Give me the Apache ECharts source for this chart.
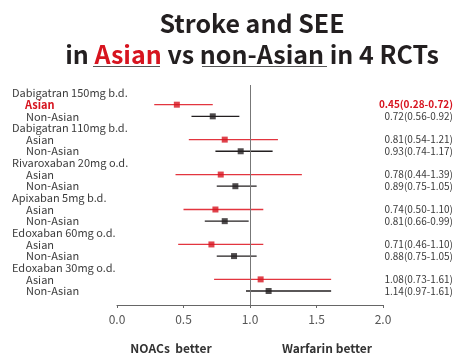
<!DOCTYPE html>
<html><head><meta charset="utf-8">
<script src="https://cdn.jsdelivr.net/npm/echarts@6/dist/echarts.min.js"></script>
<style>html,body{margin:0;padding:0;background:#fff}#c{width:473px;height:363px}</style>
</head><body><div id="c"></div>
<script>
const drugs = ['Dabigatran 150mg b.d.', 'Dabigatran 110mg b.d.', 'Rivaroxaban 20mg o.d.', 'Apixaban 5mg b.d.', 'Edoxaban 60mg o.d.', 'Edoxaban 30mg o.d.'];
const asianHR = [0.45, 0.81, 0.78, 0.74, 0.71, 1.08];
const asianLo = [0.28, 0.54, 0.44, 0.50, 0.46, 0.73];
const asianHi = [0.72, 1.21, 1.39, 1.10, 1.10, 1.61];
const nonHR = [0.72, 0.93, 0.89, 0.81, 0.88, 1.14];
const nonLo = [0.56, 0.74, 0.75, 0.66, 0.75, 0.97];
const nonHi = [0.92, 1.17, 1.05, 0.99, 1.05, 1.61];
const xTicks = [0, 0.5, 1.0, 1.5, 2.0];
const highlightIdx = 0;

const RED = '#d7141f', REDL = '#e3353f', BLK = '#231f20', TXT = '#3b3b3b';
const FONT = '"Noto Sans CJK SC", "Noto Sans", sans-serif';

const rows = [];
drugs.forEach((d, i) => {
  rows.push({type: 'h', text: d, right: ''});
  rows.push({type: 'a', text: 'Asian', hi: i === highlightIdx,
    right: asianHR[i].toFixed(2) + '(' + asianLo[i].toFixed(2) + '-' + asianHi[i].toFixed(2) + ')'});
  rows.push({type: 'n', text: 'Non-Asian', hi: false,
    right: nonHR[i].toFixed(2) + '(' + nonLo[i].toFixed(2) + '-' + nonHi[i].toFixed(2) + ')'});
});
const rowIdx = rows.map((r, i) => i);

const asianBars = drugs.map((d, i) => [i * 3 + 1, asianLo[i], asianHi[i]]);
const nonBars = drugs.map((d, i) => [i * 3 + 2, nonLo[i], nonHi[i]]);
const asianPts = drugs.map((d, i) => [asianHR[i], i * 3 + 1]);
const nonPts = drugs.map((d, i) => [nonHR[i], i * 3 + 2]);

function barRender(color) {
  return function (params, api) {
    const y = api.value(0);
    const p1 = api.coord([api.value(1), y]);
    const p2 = api.coord([api.value(2), y]);
    return {type: 'line', shape: {x1: p1[0], y1: p1[1], x2: p2[0], y2: p2[1]},
      style: {stroke: color, lineWidth: 1.3}};
  };
}

const chart = echarts.init(document.getElementById('c'), null, {renderer: 'canvas'});
chart.setOption({
  animation: false,
  backgroundColor: '#fff',
  title: {
    text: '{t|Stroke and SEE}\n{t|in }{r|Asian}{t| vs non-Asian in 4 RCTs}',
    left: 247, top: 3, textAlign: 'center',
    textStyle: {
      rich: {
        t: {fontFamily: FONT, fontWeight: 'bold', fontSize: 25, color: '#231f20', lineHeight: 31},
        r: {fontFamily: FONT, fontWeight: 'bold', fontSize: 25, color: RED, lineHeight: 31}
      }
    }
  },
  grid: {left: 117, right: 90, top: 85, bottom: 58},
  xAxis: {
    type: 'value', min: 0, max: 2, interval: 0.5,
    axisLine: {show: true, onZero: false, lineStyle: {color: '#666', width: 1}},
    axisTick: {show: true, length: 3, lineStyle: {color: '#666'}},
    splitLine: {show: false},
    axisLabel: {color: '#555', fontSize: 12, fontFamily: FONT, margin: 8,
      formatter: v => v.toFixed(1)}
  },
  yAxis: [{
    type: 'value', inverse: true, min: -0.69, max: 18.2, position: 'left',
    axisLine: {show: false}, axisTick: {show: false}, splitLine: {show: false},
    axisLabel: {
      customValues: rowIdx, align: 'left', margin: 105,
      formatter: v => {
        const r = rows[Math.round(v)];
        if (!r) return '';
        if (r.type === 'h') return '{h|' + r.text + '}';
        if (r.hi) return '{r|' + r.text + '}';
        return '{s|' + r.text + '}';
      },
      rich: {
        h: {fontFamily: FONT, fontSize: 11, color: TXT},
        s: {fontFamily: FONT, fontSize: 11, color: TXT, padding: [0, 0, 0, 14]},
        r: {fontFamily: FONT, fontSize: 11, color: RED, fontWeight: 'bold', padding: [0, 0, 0, 13]}
      }
    }
  }, {
    type: 'value', inverse: true, min: -0.69, max: 18.2, position: 'right',
    axisLine: {show: false}, axisTick: {show: false}, splitLine: {show: false},
    axisLabel: {
      customValues: rowIdx, align: 'right', margin: 70,
      formatter: v => {
        const r = rows[Math.round(v)];
        if (!r || !r.right) return '';
        return (r.hi ? '{r|' : '{n|') + r.right + '}';
      },
      rich: {
        n: {fontFamily: FONT, fontSize: 10, color: TXT},
        r: {fontFamily: FONT, fontSize: 10, color: RED, fontWeight: 'bold'}
      }
    }
  }],
  series: [
    {type: 'custom', renderItem: barRender(REDL), data: asianBars, encode: {x: [1, 2], y: 0}, z: 2},
    {type: 'custom', renderItem: barRender(BLK), data: nonBars, encode: {x: [1, 2], y: 0}, z: 2},
    {type: 'scatter', data: asianPts, symbol: 'rect', symbolSize: 6, itemStyle: {color: RED}, z: 3,
      markLine: {silent: true, symbol: 'none', label: {show: false},
        lineStyle: {color: '#777', width: 1, type: 'solid'},
        data: [{xAxis: 1}]}},
    {type: 'scatter', data: nonPts, symbol: 'rect', symbolSize: 6, itemStyle: {color: BLK}, z: 3}
  ],
  graphic: [
    {type: 'line', shape: {x1: 93, y1: 66.5, x2: 160, y2: 66.5}, style: {stroke: '#555', lineWidth: 1}},
    {type: 'line', shape: {x1: 202, y1: 66.5, x2: 327, y2: 66.5}, style: {stroke: '#555', lineWidth: 1}},
    {type: 'text', x: 171, y: 348, style: {text: 'NOACs  better', font: 'bold 12px ' + FONT, fill: '#333', align: 'center', verticalAlign: 'middle'}},
    {type: 'text', x: 327, y: 348, style: {text: 'Warfarin better', font: 'bold 12px ' + FONT, fill: '#333', align: 'center', verticalAlign: 'middle'}}
  ]
});
</script></body></html>
